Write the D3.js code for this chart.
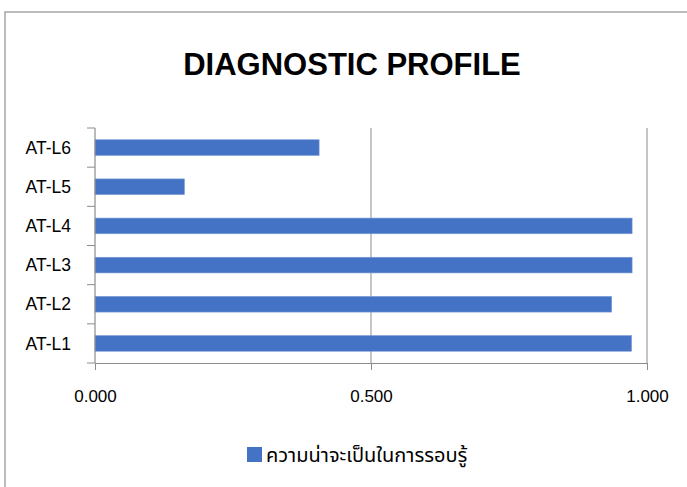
<!DOCTYPE html>
<html>
<head>
<meta charset="utf-8">
<script src="https://cdn.jsdelivr.net/npm/d3@7/dist/d3.min.js"></script>
<style>
  html, body { margin: 0; padding: 0; background: #fff; }
  svg { display: block; }
</style>
</head>
<body>
<svg id="chart" width="687" height="487"></svg>
<script>
// Diagnostic profile: mastery probability per attribute level
const categories = ["AT-L1", "AT-L2", "AT-L3", "AT-L4", "AT-L5", "AT-L6"];
const masteryProb = [0.972, 0.936, 0.973, 0.973, 0.162, 0.406];
const xTicks = [0, 0.5, 1.0];
const titleText = "DIAGNOSTIC PROFILE";
const legendLabel = "ความน่าจะเป็นในการรอบรู้";

const W = 687, H = 487;
const barColor = "#4472C4";
const axisColor = "#8c8c8c";
const latin = "Liberation Sans, Arial, sans-serif";

const svg = d3.select("#chart");

// outer chart frame
svg.append("rect")
  .attr("x", 5).attr("y", 12)
  .attr("width", W + 10).attr("height", H + 10)
  .attr("fill", "#fff")
  .attr("stroke", "#a6a6a6")
  .attr("stroke-width", 1.5);

svg.append("text")
  .attr("x", 352).attr("y", 75)
  .attr("text-anchor", "middle")
  .attr("font-family", latin)
  .attr("font-weight", "bold")
  .attr("font-size", 31)
  .attr("fill", "#000")
  .text(titleText);

const x = d3.scaleLinear().domain([0, 1]).range([95, 647]);
const y = d3.scaleBand().domain(categories.slice().reverse()).range([128, 363]).paddingInner(0.6).paddingOuter(0.3);
const yEdges = d3.scaleBand().domain(categories.slice().reverse()).range([128, 363]);

// vertical gridlines
svg.append("g").selectAll("line").data(xTicks.filter(d => d > 0)).join("line")
  .attr("x1", d => x(d)).attr("x2", d => x(d))
  .attr("y1", 128).attr("y2", 363)
  .attr("stroke", axisColor).attr("stroke-width", 1);

// bars
svg.append("g").selectAll("rect").data(categories.map((c, i) => ({ c, v: masteryProb[i] }))).join("rect")
  .attr("x", x(0))
  .attr("y", d => y(d.c))
  .attr("width", d => x(d.v) - x(0))
  .attr("height", y.bandwidth())
  .attr("fill", barColor)
  .attr("stroke", "#7a9bd6")
  .attr("stroke-width", 0.6);

// x axis
const xAxis = d3.axisBottom(x).tickValues(xTicks).tickFormat(d3.format(".3f")).tickSize(7).tickSizeOuter(0).tickPadding(20);
const gx = svg.append("g").attr("transform", "translate(0,363)").call(xAxis);
gx.select(".domain").attr("stroke", axisColor).attr("stroke-width", 1.2);
gx.selectAll(".tick line").attr("stroke", axisColor);
gx.selectAll("text").attr("font-family", latin).attr("font-size", 17).attr("fill", "#000");

// y axis with ticks on category boundaries
const gy = svg.append("g");
gy.append("line").attr("x1", 95).attr("x2", 95).attr("y1", 128).attr("y2", 363)
  .attr("stroke", axisColor).attr("stroke-width", 1.2);
const edges = yEdges.domain().map(c => yEdges(c)).concat([363]);
gy.selectAll("line.tk").data(edges).join("line").attr("class", "tk")
  .attr("x1", 87).attr("x2", 95).attr("y1", d => d).attr("y2", d => d)
  .attr("stroke", axisColor).attr("stroke-width", 1);
gy.selectAll("text").data(categories).join("text")
  .attr("x", 71)
  .attr("y", d => yEdges(d) + yEdges.bandwidth() / 2)
  .attr("dy", "0.35em")
  .attr("text-anchor", "end")
  .attr("font-family", latin)
  .attr("font-size", 17.5)
  .attr("fill", "#000")
  .text(d => d);

// legend
const lg = svg.append("g");
lg.append("rect").attr("x", 247).attr("y", 447).attr("width", 15).attr("height", 15).attr("fill", barColor);
lg.append("text").attr("x", 266).attr("y", 455).attr("dy", "0.35em")
  .attr("font-family", "Noto Sans Thai, Noto Sans, DejaVu Sans, sans-serif")
  .attr("font-size", 20)
  .attr("fill", "#000")
  .text(legendLabel);
</script>
</body>
</html>
